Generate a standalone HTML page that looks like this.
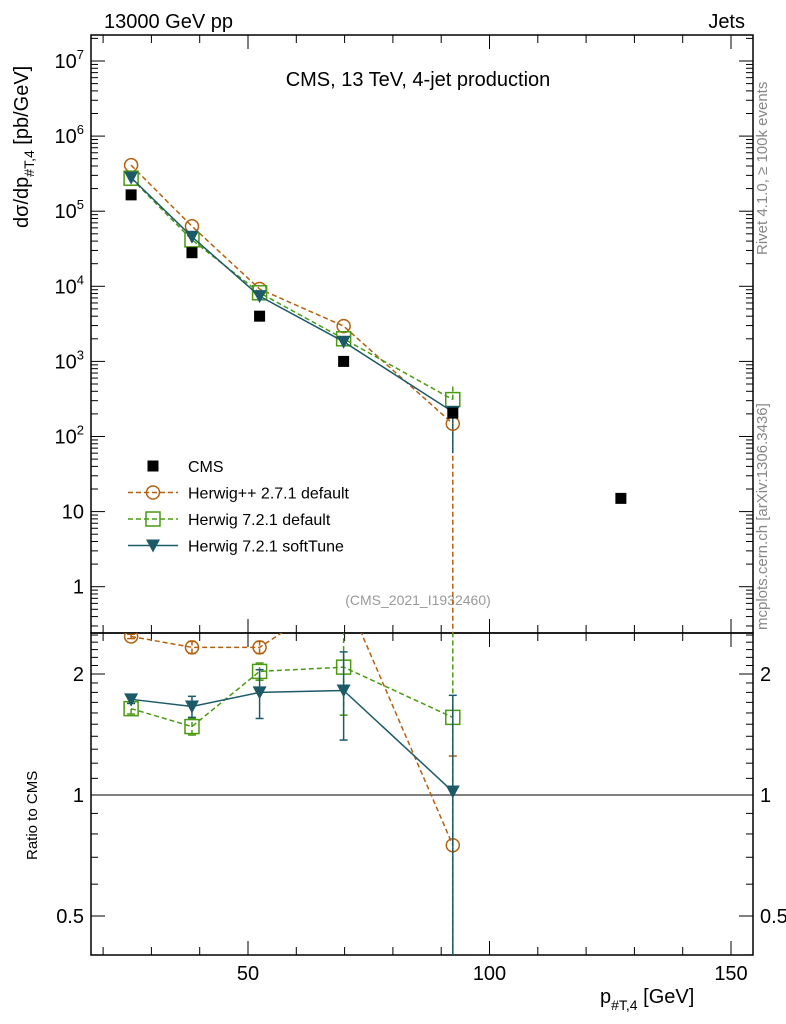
<!DOCTYPE html>
<html><head><meta charset="utf-8"><style>
body{margin:0;background:#fff;overflow:hidden;}
svg{display:block;font-family:"Liberation Sans",sans-serif;}
</style></head><body>
<svg id="c" width="786" height="1024" xmlns="http://www.w3.org/2000/svg"></svg>
<script>
const xs=[25.8,38.4,52.4,69.8,92.4,127.2];
const cms=[165000,28000,4000,1000,205,15];
const hpp=[410000,63000,9200,2950,148,null];
const h7d=[275000,41500,8200,2000,310,null];
const h7s=[280000,45600,7400,1830,213,null];
const rHpp=[2.48,2.33,2.33,3.2,0.75];
const rH7d=[1.64,1.48,2.03,2.08,1.56];
const rH7s=[1.73,1.66,1.80,1.82,1.02];
const eH7d=[0.05,0.07,0.1,0.5,1.2];
const eH7s=[0.04,0.1,0.25,0.45,0.75];
const eHpp=[0.03,0.08,0.08,0.3,0.5];
const xTicks=[50,100,150];
const yTicks=[1,10,100,1000,10000,100000,1000000,10000000];
const yLabels=["1","10","10<tspan dy='-9' font-size='13'>2</tspan>","10<tspan dy='-9' font-size='13'>3</tspan>","10<tspan dy='-9' font-size='13'>4</tspan>","10<tspan dy='-9' font-size='13'>5</tspan>","10<tspan dy='-9' font-size='13'>6</tspan>","10<tspan dy='-9' font-size='13'>7</tspan>"];
const rTicks=[0.5,1,2];

const L=91,R=753,T=35,M=633,B=955;
const X=v=>6.5+v*4.83;
const Y=v=>61-(Math.log10(v)-7)*75.1;
const RY=v=>795-Math.log2(v)*121;
const svg=document.getElementById('c');
const NS='http://www.w3.org/2000/svg';
function el(tag,attrs,name,parent){const e=document.createElementNS(NS,tag);for(const k in attrs)e.setAttribute(k,attrs[k]);


(parent||svg).appendChild(e);return e;}
function txt(x,y,s,attrs,name){const t=el('text',Object.assign({x:x,y:y,'font-size':20},attrs||{}),name);t.innerHTML=s;return t;}

const defs=el('defs',{},'defs');
const c1=el('clipPath',{id:'cm'},'clip-main',defs);el('rect',{x:L,y:T,width:R-L,height:M-T},'clip-rect',c1);
const c2=el('clipPath',{id:'cr'},'clip-ratio',defs);el('rect',{x:L,y:M,width:R-L,height:B-M},'clip-rect',c2);

txt(104,28,"13000 GeV pp",{},'header-left');
txt(745,28,"Jets",{'text-anchor':'end'},'header-right');
txt(418,86,"CMS, 13 TeV, 4-jet production",{'text-anchor':'middle'},'plot-title');
txt(418,605,"(CMS_2021_I1932460)",{'text-anchor':'middle','font-size':14,fill:'#999'},'analysis-id');
txt(0,0,"Rivet 4.1.0, ≥ 100k events",{'font-size':15,fill:'#888',transform:'translate(767,255) rotate(-90)'},'rivet-label');
txt(0,0,"mcplots.cern.ch [arXiv:1306.3436]",{'font-size':15,fill:'#888',transform:'translate(767,630) rotate(-90)'},'mcplots-label');
txt(0,0,"dσ/dp<tspan dy='6' font-size='14'>#T,4</tspan><tspan dy='-6'> [pb/GeV]</tspan>",{'font-size':20,transform:'translate(28,228) rotate(-90)'},'y-axis-title');
txt(0,0,"Ratio to CMS",{'font-size':15,transform:'translate(37,860) rotate(-90)'},'ratio-axis-title');
txt(600,1003,"p<tspan dy='7' font-size='14'>#T,4</tspan><tspan dy='-7'> [GeV]</tspan>",{'font-size':20},'x-axis-title');

el('rect',{x:L,y:T,width:R-L,height:M-T,fill:'none',stroke:'#000','stroke-width':1.5},'main-frame');
el('rect',{x:L,y:M,width:R-L,height:B-M,fill:'none',stroke:'#000','stroke-width':1.5},'ratio-frame');
for(let v=20;v<=150;v+=10){const big=v%50===0;const h=big?14:8;const x=X(v);
 for(const [y0,y1] of [[M,M-h],[T,T+h],[B,B-h],[M,M+h]]) el('line',{x1:x,x2:x,y1:y0,y2:y1,stroke:'#000'},'x-tick');}
xTicks.forEach(v=>txt(X(v),980,v,{'text-anchor':'middle'},'x-tick-label'));
for(let d=-1;d<=7;d++)for(let m=1;m<10;m++){const v=m*Math.pow(10,d);const y=Y(v);if(y<T||y>M)continue;const h=m===1?14:7;
 el('line',{x1:L,x2:L+h,y1:y,y2:y,stroke:'#000'},'y-tick');el('line',{x1:R,x2:R-h,y1:y,y2:y,stroke:'#000'},'y-tick');}
yTicks.forEach((v,i)=>txt(84,Y(v)+7,yLabels[i],{'text-anchor':'end'},'y-tick-label'));
for(let v=0.4;v<=2.6;v+=0.1){const y=RY(v);if(y<M||y>B)continue;const maj=[0.5,1,2].some(t=>Math.abs(t-v)<1e-6);const h=maj?14:7;
 el('line',{x1:L,x2:L+h,y1:y,y2:y,stroke:'#000'},'ratio-tick');el('line',{x1:R,x2:R-h,y1:y,y2:y,stroke:'#000'},'ratio-tick');}
rTicks.forEach(v=>{txt(84,RY(v)+7,v,{'text-anchor':'end'},'ratio-tick-label');txt(760,RY(v)+7,v,{},'ratio-tick-label-right');});
el('line',{x1:L,x2:R,y1:RY(1),y2:RY(1),stroke:'#000'},'ratio-unity-line');

const gm=el('g',{'clip-path':'url(#cm)'},'main-series');
const gr=el('g',{'clip-path':'url(#cr)'},'ratio-series');
function marker(g,kind,x,y,col,name){
 if(kind==='sq')el('rect',{x:x-7,y:y-7,width:14,height:14,fill:'none',stroke:col,'stroke-width':1.5},name,g);
 else if(kind==='circ')el('circle',{cx:x,cy:y,r:6.5,fill:'none',stroke:col,'stroke-width':1.5},name,g);
 else if(kind==='tri')el('path',{d:`M${x-7} ${y-6}L${x+7} ${y-6}L${x} ${y+7}Z`,fill:col},name,g);
 else if(kind==='fsq')el('rect',{x:x-5.5,y:y-5.5,width:11,height:11,fill:'#000'},name,g);
}
function series(g,vals,yf,col,dash,kind,name,err){
 let pts=[];vals.forEach((v,i)=>{if(v!=null)pts.push(X(xs[i])+','+yf(v));});
 el('polyline',{points:pts.join(' '),fill:'none',stroke:col,'stroke-width':1.5,'stroke-dasharray':dash},name+'-line',g);
 vals.forEach((v,i)=>{if(v==null)return;const x=X(xs[i]);
  if(err){const lo=Math.max(v-err[i],0.01),hi=v+err[i];
   el('line',{x1:x,x2:x,y1:yf(lo),y2:yf(hi),stroke:col,'stroke-width':1.5,'stroke-dasharray':dash},name+'-errorbar',g);
   el('line',{x1:x-4,x2:x+4,y1:yf(lo),y2:yf(lo),stroke:col,'stroke-width':1.5},name+'-errorcap',g);
   el('line',{x1:x-4,x2:x+4,y1:yf(hi),y2:yf(hi),stroke:col,'stroke-width':1.5},name+'-errorcap',g);}
  marker(g,kind,x,yf(v),col,name+'-point');});
}
const cB='#b5600e',cG='#4a9a12',cT='#1c5a68';
// herwig++ error bar at last main point extends to zero
el('line',{x1:X(xs[4]),x2:X(xs[4]),y1:Y(hpp[4]),y2:M,stroke:cB,'stroke-width':1.5,'stroke-dasharray':'5,3'},'herwigpp-errorbar',gm);
el('line',{x1:X(xs[4]),x2:X(xs[4]),y1:Y(h7s[4]),y2:Y(60),stroke:cT,'stroke-width':1.5},'herwig7-softtune-errorbar',gm);
el('line',{x1:X(xs[4]),x2:X(xs[4]),y1:Y(h7d[4]),y2:Y(480),stroke:cG,'stroke-width':1.5,'stroke-dasharray':'5,3'},'herwig7-default-errorbar',gm);
series(gm,hpp,Y,cB,'5,3','circ','herwigpp');
series(gm,h7d,Y,cG,'5,3','sq','herwig7-default');
series(gm,h7s,Y,cT,'','tri','herwig7-softtune');
cms.forEach((v,i)=>marker(gm,'fsq',X(xs[i]),Y(v),'#000','cms-point'));
series(gr,rHpp,RY,cB,'5,3','circ','ratio-herwigpp',eHpp);
series(gr,rH7d,RY,cG,'5,3','sq','ratio-herwig7-default',eH7d);
series(gr,rH7s,RY,cT,'','tri','ratio-herwig7-softtune',eH7s);
const lg=el('g',{},'legend');
const items=[['fsq','#000','','CMS'],['circ',cB,'5,3','Herwig++ 2.7.1 default'],['sq',cG,'5,3','Herwig 7.2.1 default'],['tri',cT,'','Herwig 7.2.1 softTune']];
items.forEach((it,i)=>{const y=466+i*26.5;
 if(i>0)el('line',{x1:128,x2:178,y1:y,y2:y,stroke:it[1],'stroke-width':1.5,'stroke-dasharray':it[2]},'legend-line',lg);
 marker(lg,it[0],153,y,it[1],'legend-marker');
 const t=el('text',{x:188,y:y+6,'font-size':16},'legend-entry',lg);t.textContent=it[3];});
</script>
</body></html>
